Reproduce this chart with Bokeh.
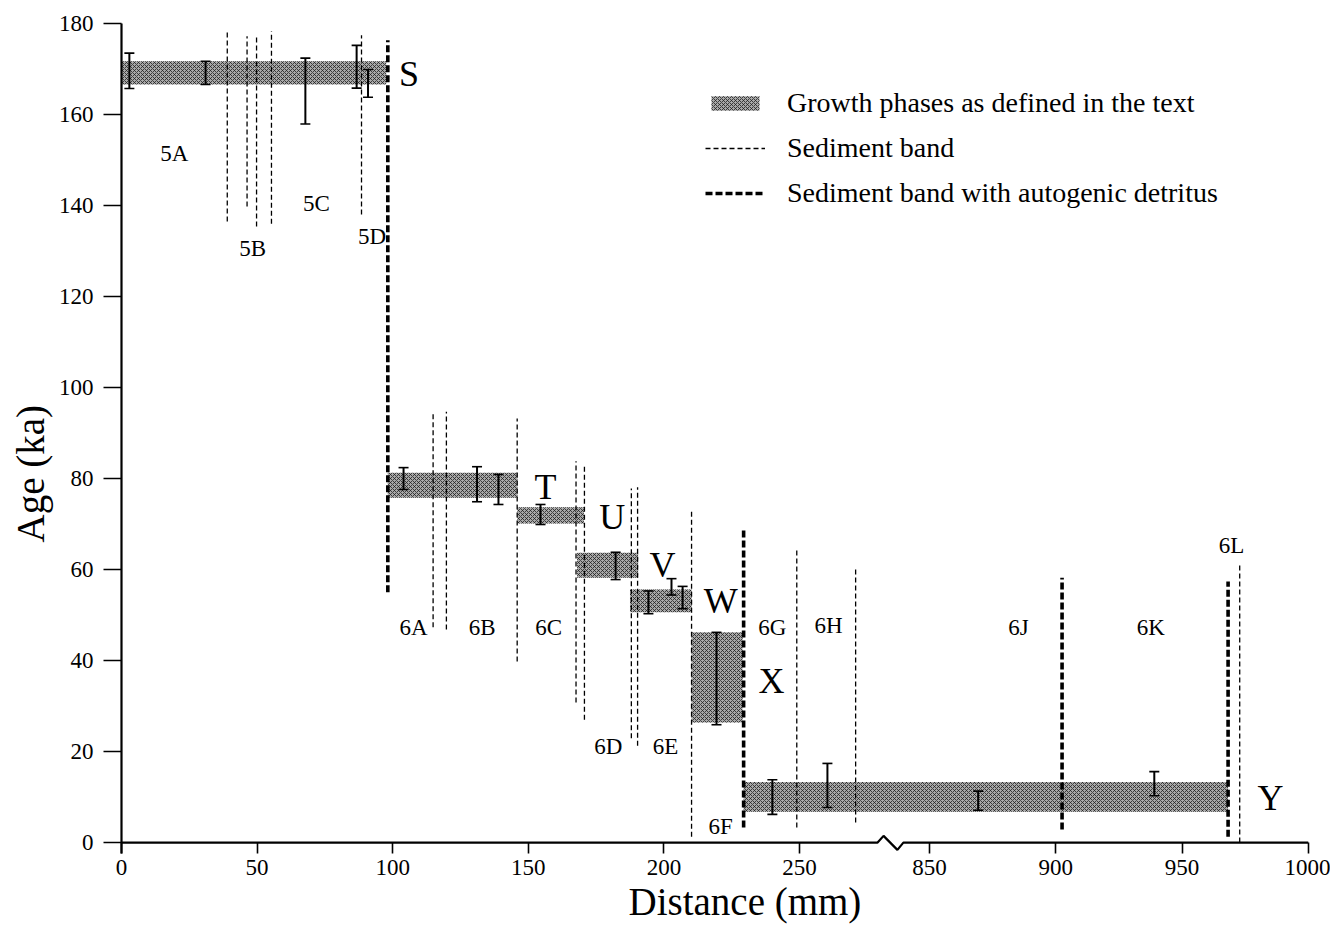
import numpy as np
from bokeh.plotting import figure
from bokeh.models import (ColumnDataSource, Range1d, FixedTicker, Whisker, TeeHead,
                          Legend, LegendItem, Title)
from bokeh.core.properties import value
from bokeh.embed import file_html
from bokeh.resources import INLINE

# ---------------- data (distance in mm, age in ka) ----------------
phase_names = ["S", "T", "U", "V", "W", "X", "Y"]
phase_start = [0.0, 98.2, 146.0, 168.0, 187.5, 210.2, 229.4]
phase_end = [97.6, 146.0, 170.5, 190.5, 210.2, 229.0, 968.2]
phase_age_lo = [166.6, 75.8, 70.1, 58.2, 50.6, 26.4, 6.8]
phase_age_hi = [171.7, 81.3, 73.7, 63.7, 55.6, 46.2, 13.3]

letter_x = [106.0, 156.3, 181.0, 199.5, 221.0, 239.7, 985.0]
letter_y = [169.0, 78.2, 71.6, 61.0, 53.0, 35.4, 9.9]

sub_names = ["5A", "5B", "5C", "5D", "6A", "6B", "6C", "6D", "6E", "6F",
             "6G", "6H", "6J", "6K", "6L"]
sub_x = [19.5, 48.4, 71.9, 92.4, 107.7, 133.0, 157.5, 179.5, 200.6, 220.9,
         240.0, 260.7, 885.3, 937.6, 969.6]
sub_y = [151.5, 130.5, 140.4, 133.2, 47.3, 47.3, 47.3, 21.2, 21.2, 3.6,
         47.3, 47.7, 47.3, 47.3, 65.3]

err_x = [2.9, 31.0, 67.8, 86.7, 90.9, 104.0, 131.1, 139.0, 154.5, 182.2,
         194.3, 202.8, 206.9, 219.4, 240.0, 260.3, 869.3, 939.0]
err_lo = [165.7, 166.6, 157.9, 165.8, 163.8, 77.6, 74.9, 74.3, 69.9, 57.8,
          50.3, 54.4, 51.4, 25.9, 6.2, 7.7, 7.1, 10.3]
err_hi = [173.5, 171.7, 172.4, 175.2, 169.9, 82.4, 82.6, 80.9, 74.3, 63.8,
          55.3, 58.0, 56.3, 46.2, 13.8, 17.4, 11.3, 15.6]

band_x = [39.0, 46.3, 49.8, 55.3, 88.5, 114.9, 119.8, 145.9, 167.6, 170.7,
          188.0, 190.3, 210.2, 249.0, 270.7, 972.8]
band_bottom = [136.5, 139.8, 135.4, 136.0, 138.0, 47.3, 46.8, 39.8, 30.8, 27.0,
               22.9, 21.3, 1.3, 3.3, 4.4, 0.0]
band_top = [178.7, 177.2, 177.6, 178.3, 177.4, 94.5, 94.7, 93.2, 83.8, 82.9,
            77.8, 78.1, 72.7, 64.6, 60.4, 61.5]

detr_x = [98.2, 229.4, 902.5, 968.2]
detr_bottom = [55.0, 3.3, 2.9, 1.3]
detr_top = [176.3, 69.2, 58.2, 57.4]

x_ticks_mm = [0, 50, 100, 150, 200, 250, 850, 900, 950, 1000]
y_ticks = [0, 20, 40, 60, 80, 100, 120, 140, 160, 180]

# ---------------- broken distance axis ----------------
LEFT_MAX = 290.0
RIGHT_REF_MM = 850.0
RIGHT_REF_U = 297.9
RIGHT_SCALE = 0.9318


def xu(d):
    d = np.asarray(d, dtype=float)
    return np.where(d <= LEFT_MAX, d, RIGHT_REF_U + (d - RIGHT_REF_MM) * RIGHT_SCALE)


xt = [round(float(v), 3) for v in xu(x_ticks_mm)]
U_END = max(xt) + 0.02
FONT = "Liberation Serif"

p = figure(width=1330, height=932,
           x_range=Range1d(0, U_END), y_range=Range1d(-2.4, 180),
           output_backend="svg", toolbar_location=None,
           min_border_left=121, min_border_right=22,
           min_border_top=23, min_border_bottom=79)
p.background_fill_color = "white"
p.border_fill_color = "white"
p.outline_line_color = None
p.grid.grid_line_color = None

# growth phases
phase_src = ColumnDataSource(dict(left=xu(phase_start), right=xu(phase_end),
                                  bottom=phase_age_lo, top=phase_age_hi))
r_phase = p.quad(left="left", right="right", bottom="bottom", top="top", source=phase_src,
                 fill_color="#a8a8a8", line_color=None,
                 hatch_pattern="diagonal_cross", hatch_color="#222222",
                 hatch_scale=4, hatch_weight=1.0, hatch_alpha=0.8)

# sediment bands
bx = xu(band_x)
r_band = p.segment(x0=bx, x1=bx, y0=band_bottom, y1=band_top,
                   line_color="black", line_width=1.3, line_dash="5 3")
dx = xu(detr_x)
r_detr = p.segment(x0=dx, x1=dx, y0=detr_bottom, y1=detr_top,
                   line_color="black", line_width=3.6, line_dash="7 3")

# error bars
err_src = ColumnDataSource(dict(base=xu(err_x), lower=err_lo, upper=err_hi))
whisk = Whisker(source=err_src, base="base", lower="lower", upper="upper",
                dimension="height", line_color="black", line_width=2,
                upper_head=TeeHead(size=10, line_width=1.6, line_color="black"),
                lower_head=TeeHead(size=10, line_width=1.6, line_color="black"))
whisk.level = "overlay"
p.add_layout(whisk)

# labels
p.text(x=xu(letter_x), y=letter_y, text=phase_names, text_font=value(FONT),
       text_font_size="36px", text_align="center", text_baseline="middle",
       text_color="black")
p.text(x=xu(sub_x), y=sub_y, text=sub_names, text_font=value(FONT),
       text_font_size="23px", text_align="center", text_baseline="middle",
       text_color="black")

# x axis line with break symbol
brk_u = [0.0, 278.8, 281.0, 286.1, 288.3, U_END]
brk_y = [0.0, 0.0, 1.47, -1.6, 0.0, 0.0]
p.line(brk_u, brk_y, line_color="black", line_width=2.2)

# axes
p.xaxis.ticker = FixedTicker(ticks=xt)
p.xaxis.major_label_overrides = {t: str(m) for t, m in zip(xt, x_ticks_mm)}
p.xaxis.axis_line_color = None
p.xaxis.major_tick_in = 11
p.xaxis.major_tick_out = 0
p.xaxis.major_tick_line_width = 1.6
p.xaxis.minor_tick_line_color = None
p.xaxis.major_label_standoff = 6
p.xaxis.major_label_text_font = FONT
p.xaxis.major_label_text_font_size = "23px"
p.xaxis.major_label_text_color = "black"

p.yaxis.ticker = FixedTicker(ticks=y_ticks)
p.yaxis.axis_line_width = 2.2
p.yaxis.axis_line_color = "black"
p.yaxis.major_tick_in = 0
p.yaxis.major_tick_out = 18
p.yaxis.major_tick_line_width = 1.6
p.yaxis.minor_tick_line_color = None
p.yaxis.major_label_standoff = 10
p.yaxis.major_label_text_font = FONT
p.yaxis.major_label_text_font_size = "23px"
p.yaxis.major_label_text_color = "black"

p.add_layout(Title(text="Age (ka)", align="left", offset=311, standoff=8,
                   text_font=FONT, text_font_size="39px", text_font_style="normal",
                   text_color="black"), "left")
p.add_layout(Title(text="Distance (mm)", align="left", offset=507, standoff=0,
                   text_font=FONT, text_font_size="39px", text_font_style="normal",
                   text_color="black"), "below")

legend = Legend(items=[
    LegendItem(label="Growth phases as defined in the text", renderers=[r_phase]),
    LegendItem(label="Sediment band", renderers=[r_band]),
    LegendItem(label="Sediment band with autogenic detritus", renderers=[r_detr]),
], location=(584, 644), glyph_width=60, glyph_height=18, label_height=33,
    label_standoff=22, spacing=12, padding=0, margin=0,
    border_line_color=None, background_fill_alpha=0,
    label_text_font=FONT, label_text_font_size="28px", label_text_color="black")
p.add_layout(legend)

open("out.html", "w").write(file_html(p, INLINE))
